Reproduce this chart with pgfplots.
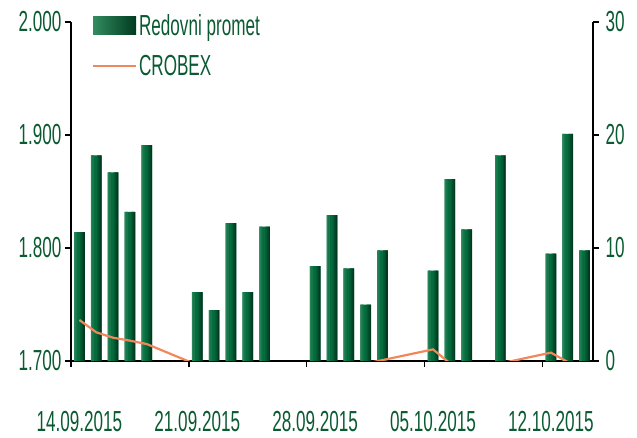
\documentclass[border=0pt]{standalone}
\usepackage{fontspec}
\setmainfont{Liberation Sans}[FakeStretch=0.59]
\usepackage{pgfplots}
\usepackage{pgfplotstable}
\pgfplotsset{compat=1.18}
\definecolor{txtgreen}{RGB}{10,90,50}
\definecolor{barL}{RGB}{50,140,95}
\definecolor{barM}{RGB}{5,108,62}
\definecolor{barR}{RGB}{0,58,32}
\definecolor{crobex}{RGB}{240,136,92}
\newcommand\lbl{\fontsize{29bp}{32bp}\selectfont\color{txtgreen}}
\pgfplotsset{strip/.style 2 args={ybar, bar width=1.7bp, bar shift=#1, fill=#2, draw=none, forget plot}}
\pgfplotstableread{
x v
0.5 11.4
1.5 18.2
2.5 16.7
3.5 13.2
4.5 19.1
7.5 6.1
8.5 4.5
9.5 12.2
10.5 6.1
11.5 11.9
14.5 8.4
15.5 12.9
16.5 8.2
17.5 5.0
18.5 9.8
21.5 8.0
22.5 16.1
23.5 11.65
25.5 18.2
28.5 9.5
29.5 20.1
30.5 9.8
}\promet
\pgfplotstableread{
x c
0.5 1736.3
1.5 1725.4
2.5 1720.6
3.5 1718.0
4.5 1715.0
7.5 1696.5
8.5 1690
9.5 1686
10.5 1681
11.5 1684
14.5 1681
15.5 1686
16.5 1690
17.5 1697.6
18.5 1700.8
21.5 1710.3
22.5 1698.0
23.5 1690
25.5 1697.8
28.5 1707.4
29.5 1699.1
30.5 1692
}\crobexdata
\begin{document}
\begin{tikzpicture}
\path[use as bounding box] (-71bp,-77bp) rectangle (566bp,361bp);
\begin{axis}[
  scale only axis, width=522bp, height=339bp,
  xmin=0, xmax=31, ymin=0, ymax=30,
  axis x line*=bottom, axis y line*=right,
  axis line style={-, black, line width=1.5bp},
  ytick={0,10,20,30}, yticklabels={0,10,20,30},
  xtick={0,7,14,21,28},
  xticklabels={14.09.2015,21.09.2015,28.09.2015,05.10.2015,12.10.2015},
  tick align=outside, major tick length=6bp,
  tick style={black, line width=1.5bp},
  ticklabel style={font=\lbl},
  xticklabel style={xshift=8.4bp, yshift=-41bp},
  yticklabel style={xshift=3bp},
  legend style={at={(0.04,1.03)}, anchor=north west, draw=none, fill=none,
    inner sep=0pt, row sep=15bp, font=\lbl, text=txtgreen},
  legend cell align=left,
]
\addplot[ybar, bar width=10.5bp, bar shift=0bp, draw=none, fill=barM,
  legend image code/.code={\shade[left color=barL, middle color=barM, right color=barR] (0bp,-9bp) rectangle (43bp,9bp);}]
  table[x=x, y=v] {\promet};
\addlegendentry{Redovni promet}
\addplot[strip={-4.5bp}{barL!75!barM}] table[x=x, y=v] {\promet};
\addplot[strip={-3bp}{barL!35!barM}] table[x=x, y=v] {\promet};
\addplot[strip={1.5bp}{barM!70!barR}] table[x=x, y=v] {\promet};
\addplot[strip={3bp}{barM!40!barR}] table[x=x, y=v] {\promet};
\addplot[strip={4.5bp}{barR}] table[x=x, y=v] {\promet};
\addlegendimage{legend image code/.code={\draw[crobex, line width=2bp] (0bp,0bp) -- (43bp,0bp);}}
\addlegendentry{CROBEX}
\end{axis}
\begin{axis}[
  scale only axis, width=522bp, height=339bp,
  xmin=0, xmax=31, ymin=1700, ymax=2000,
  axis x line=none, axis y line*=left,
  axis line style={-, black, line width=1.5bp},
  ytick={1700,1800,1900,2000}, yticklabels={1.700,1.800,1.900,2.000},
  tick align=outside, major tick length=6bp,
  tick style={black, line width=1.5bp},
  ticklabel style={font=\lbl},
]
\addplot[crobex, line width=2.2bp, mark=none] table[x=x, y=c] {\crobexdata};
\end{axis}
\end{tikzpicture}
\end{document}
